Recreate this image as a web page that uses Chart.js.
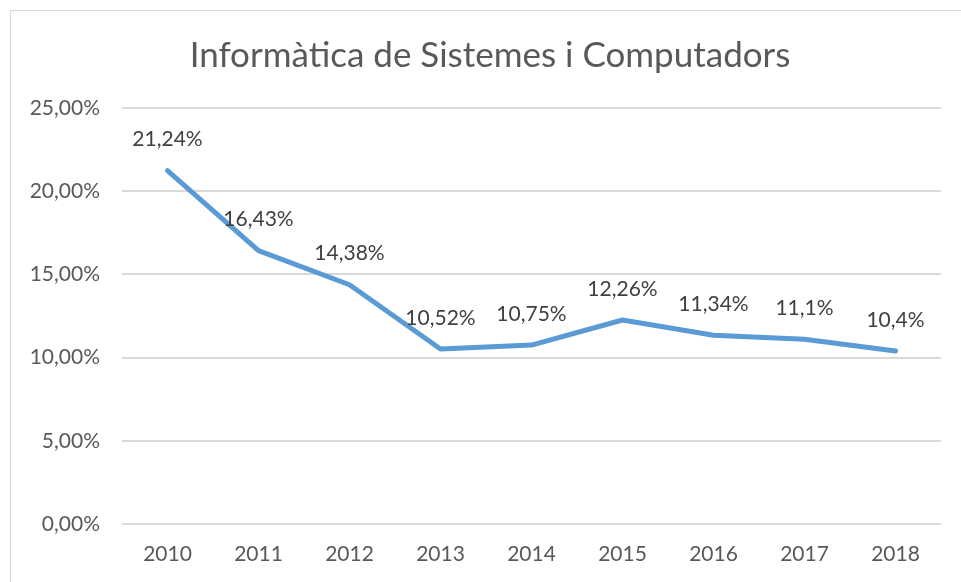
<!DOCTYPE html>
<html>
<head>
<meta charset="utf-8">
<script src="https://cdn.jsdelivr.net/npm/chart.js@4"></script>
<style>
  html, body { margin: 0; padding: 0; background: #fff; }
  #wrap { width: 961px; height: 582px; position: relative; }
</style>
</head>
<body>
<div id="wrap"><canvas id="chart" width="961" height="582"></canvas></div>
<script>
// chart data
const years = ['2010', '2011', '2012', '2013', '2014', '2015', '2016', '2017', '2018'];
const percents = [21.24, 16.43, 14.38, 10.52, 10.75, 12.26, 11.34, 11.1, 10.4];
const chartTitle = 'Informàtica de Sistemes i Computadors';

const FONT = 'Lato, "Noto Sans", sans-serif';

//format like excel, comma decimal
const fmtLabel = v => String(v).replace('.', ',') + '%';
const fmtTick = v => v.toFixed(2).replace('.', ',') + '%';

//outer frame, title, value labels above each point
const extras = {
    id: 'extras',
    beforeDraw(chart) {
        const ctx = chart.ctx;
        ctx.save();
        ctx.strokeStyle = '#d9d9d9';
        ctx.lineWidth = 1;
        ctx.strokeRect(10.5, 10.5, chart.width, chart.height);
        //title centred on the frame (frame runs past the right edge)
        ctx.font = '35px ' + FONT;
        ctx.fillStyle = '#595959';
        ctx.textAlign = 'center';
        ctx.textBaseline = 'middle';
        ctx.fillText(chartTitle, 490, 56);
        ctx.restore();
    },
    afterDatasetsDraw(chart) {
        const ctx = chart.ctx;
        const meta = chart.getDatasetMeta(0);
        ctx.save();
        ctx.font = '21px ' + FONT;
        ctx.fillStyle = '#404040';
        ctx.textAlign = 'center';
        ctx.textBaseline = 'middle';
        meta.data.forEach((pt, i) => {
            ctx.fillText(fmtLabel(percents[i]), pt.x, pt.y - 31);
        });
        ctx.restore();
    }
};

new Chart(document.getElementById('chart'), {
    type: 'line',
    data: {
        labels: years,
        datasets: [{
            data: percents,
            borderColor: '#5b9bd5',
            borderWidth: 5,
            borderCapStyle: 'round',
            borderJoinStyle: 'round',
            pointRadius: 0,
            tension: 0,
            fill: false
        }]
    },
    options: {
        responsive: false,
        animation: false,
        layout: { padding: { top: 108, right: 20, bottom: 0, left: 0 } },
        plugins: {
            legend: { display: false },
            tooltip: { enabled: false },
            title: { display: false }
        },
        scales: {
            x: {
                offset: true,
                grid: { display: false },
                border: { display: false },
                afterFit: scale => { scale.height = 58; },
                ticks: {
                    color: '#595959',
                    font: { family: FONT, size: 21 },
                    padding: 10,
                    maxRotation: 0
                }
            },
            y: {
                min: 0,
                max: 25,
                grid: { color: '#d9d9d9', lineWidth: 2, drawTicks: false },
                border: { display: false },
                afterFit: scale => { scale.width = 122; },
                ticks: {
                    stepSize: 5,
                    color: '#595959',
                    font: { family: FONT, size: 21 },
                    padding: 22,
                    callback: v => fmtTick(v)
                }
            }
        }
    },
    plugins: [extras]
});
</script>
</body>
</html>
